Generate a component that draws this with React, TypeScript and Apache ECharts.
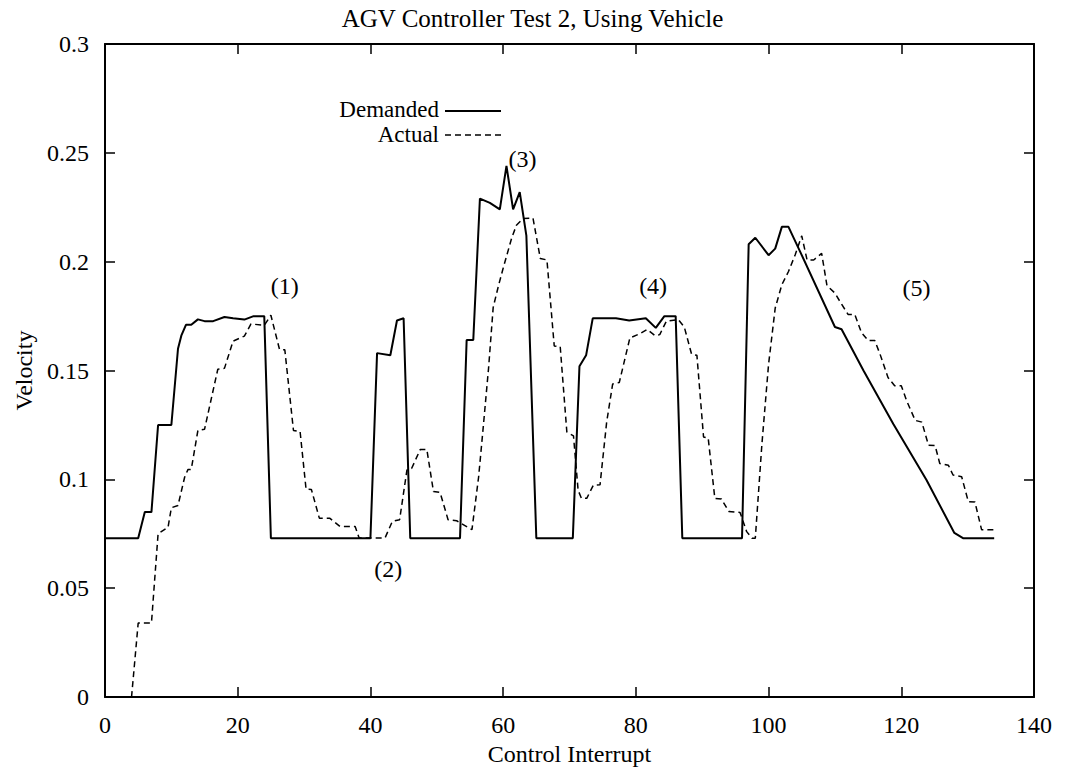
import React, { useEffect, useRef } from "react";
import * as echarts from "echarts";

const titleText = "AGV Controller Test 2, Using Vehicle";
const xAxisName = "Control Interrupt";
const yAxisName = "Velocity";
const seriesNames = ["Demanded", "Actual"];

const demanded: [number, number][] = [
  [0, 0.073], [5, 0.073], [6, 0.085], [7, 0.085], [8, 0.125], [10, 0.125], [11, 0.16], [11.5, 0.166],
  [12.2, 0.171], [13, 0.171], [14, 0.1735], [15, 0.1727], [16.3, 0.1727], [18, 0.1746], [19.3, 0.174],
  [21, 0.1734], [22.4, 0.175], [24, 0.175], [25, 0.073], [40, 0.073], [41, 0.158], [43, 0.157],
  [44, 0.173], [45, 0.174], [46, 0.073], [53.5, 0.073], [54.5, 0.164], [55.5, 0.164], [56.5, 0.229],
  [58, 0.227], [59.5, 0.224], [60.5, 0.244], [61.5, 0.224], [62.5, 0.232], [63.5, 0.212], [65, 0.073],
  [70.5, 0.073], [71.5, 0.152], [72.5, 0.157], [73.5, 0.174], [77, 0.174], [79, 0.173], [81.5, 0.174],
  [83, 0.1696], [84.3, 0.175], [86, 0.175], [87, 0.073], [96, 0.073], [97, 0.208], [98, 0.211],
  [100, 0.203], [101, 0.206], [102, 0.216], [103, 0.216], [104.7, 0.205], [110, 0.17], [111, 0.169],
  [114.3, 0.15], [118.8, 0.1255], [123.8, 0.0997], [128, 0.0754], [129.3, 0.073], [134, 0.073],
];

const actual: [number, number][] = [
  [4, 0], [5, 0.034], [7, 0.034], [8, 0.075], [9.5, 0.078], [10, 0.087], [11, 0.088], [12, 0.101],
  [12.5, 0.1045], [13, 0.1046], [14, 0.1225], [15, 0.123], [17, 0.1506], [18, 0.151], [19.3, 0.1635],
  [21, 0.1658], [22, 0.1714], [24, 0.1708], [25, 0.1754], [26.3, 0.1597], [27.1, 0.1595], [28.4, 0.1225],
  [29.4, 0.122], [30.3, 0.0955], [31.1, 0.0954], [32.3, 0.0822], [33.9, 0.0821], [35.4, 0.0784],
  [37.7, 0.0784], [38.3, 0.0731], [42.2, 0.0731], [43.3, 0.0807], [44.4, 0.0815], [45.5, 0.1043],
  [46.2, 0.105], [47.5, 0.1137], [48.5, 0.1138], [49.5, 0.0944], [50.5, 0.094], [51.7, 0.0815],
  [53, 0.081], [55.3, 0.0769], [56.3, 0.101], [57, 0.124], [57.8, 0.151], [58.5, 0.179], [59.3, 0.189],
  [60, 0.197], [61.3, 0.211], [62, 0.2167], [63, 0.2198], [64.5, 0.22], [65.6, 0.2015], [66.6, 0.2008],
  [67.7, 0.1613], [68.6, 0.161], [69.6, 0.1218], [70.6, 0.12], [71.3, 0.095], [71.8, 0.0913],
  [72.6, 0.0913], [73.6, 0.0974], [74.6, 0.0975], [75.6, 0.1263], [76.5, 0.1438], [77.5, 0.1445],
  [79.1, 0.165], [80.6, 0.1669], [81.7, 0.1689], [82.9, 0.166], [83.6, 0.1665], [84.6, 0.1727],
  [86.4, 0.1734], [87.3, 0.17], [88.4, 0.1575], [89.2, 0.157], [90.2, 0.1195], [90.9, 0.119],
  [91.9, 0.0913], [92.9, 0.091], [94, 0.0853], [95.7, 0.0848], [96.7, 0.076], [97.5, 0.073], [98, 0.073],
  [99, 0.1164], [100, 0.1529], [101, 0.1787], [102, 0.1894], [103, 0.1955], [104, 0.2031], [105, 0.2119],
  [105.8, 0.2008], [106.8, 0.2008], [108, 0.2038], [108.8, 0.189], [110, 0.1856], [110.9, 0.181],
  [112, 0.1757], [113, 0.1757], [114, 0.1674], [115, 0.1638], [116, 0.1638], [116.8, 0.1575],
  [118, 0.1468], [119, 0.143], [120, 0.143], [120.8, 0.1362], [122.1, 0.1271], [123.1, 0.1263],
  [124.1, 0.1157], [125.1, 0.1155], [125.8, 0.1073], [127.1, 0.1065], [127.8, 0.102], [129.1, 0.1012],
  [130.1, 0.0898], [131.1, 0.0896], [132.1, 0.0769], [134.1, 0.0769],
];

const annotationTexts = ["(1)", "(2)", "(3)", "(4)", "(5)"];
const annotationPositions: [number, number][] = [
  [27.1, 0.189], [42.7, 0.059], [62.9, 0.247], [82.6, 0.189], [122.3, 0.188],
];

const FONT = "'Liberation Serif', 'Times New Roman', serif";
const FS_TITLE = 25;
const FS_TICK = 24;
const FS_NAME = 24;
const FS_LEGEND = 23;
const FS_NOTE = 24;

export default function App() {
  const ref = useRef<HTMLDivElement>(null);
  useEffect(() => {
    if (!ref.current) return;
    const chart = echarts.init(ref.current, undefined, { renderer: "svg" });
    const axisCommon = {
      type: "value" as const,
      axisLine: { show: true, onZero: false, lineStyle: { color: "#000", width: 2 } },
      axisTick: { show: true, inside: true, length: 10, lineStyle: { color: "#000", width: 1.5 } },
      splitLine: { show: false },
    };
    chart.setOption({
      animation: false,
      backgroundColor: "#fff",
      title: {
        text: titleText,
        left: "center",
        top: 1,
        textStyle: { fontFamily: FONT, fontSize: FS_TITLE, fontWeight: "normal", color: "#000" },
      },
      grid: { left: 105, right: 31, top: 44, bottom: 69, containLabel: false },
      xAxis: [
        {
          ...axisCommon,
          min: 0, max: 140, interval: 20,
          name: xAxisName, nameLocation: "middle", nameGap: 38,
          nameTextStyle: { fontFamily: FONT, fontSize: FS_NAME, color: "#000" },
          axisLabel: { fontFamily: FONT, fontSize: FS_TICK, color: "#000", margin: 16 },
        },
        {
          ...axisCommon,
          position: "top",
          min: 0, max: 140, interval: 20,
          axisLabel: { show: false },
        },
      ],
      yAxis: [
        {
          ...axisCommon,
          min: 0, max: 0.3, interval: 0.05,
          name: yAxisName, nameLocation: "middle", nameGap: 65,
          nameTextStyle: { fontFamily: FONT, fontSize: FS_NAME, color: "#000" },
          axisLabel: { fontFamily: FONT, fontSize: FS_TICK, color: "#000", margin: 16 },
        },
        {
          ...axisCommon,
          position: "right",
          min: 0, max: 0.3, interval: 0.05,
          axisLabel: { show: false },
        },
      ],
      graphic: [
        { type: "text", right: 626, top: 98, style: { text: seriesNames[0], font: `${FS_LEGEND}px ${FONT}`, fill: "#000" } },
        { type: "line", shape: { x1: 445, y1: 111, x2: 501, y2: 111 }, style: { stroke: "#000", lineWidth: 2 } },
        { type: "text", right: 626, top: 123, style: { text: seriesNames[1], font: `${FS_LEGEND}px ${FONT}`, fill: "#000" } },
        { type: "line", shape: { x1: 445, y1: 135, x2: 501, y2: 135 }, style: { stroke: "#000", lineWidth: 1.5, lineDash: [6, 4] } },
      ],
      series: [
        {
          name: seriesNames[0],
          type: "line",
          data: demanded,
          showSymbol: false,
          symbol: "none",
          lineStyle: { color: "#000", width: 2 },
          xAxisIndex: 0, yAxisIndex: 0,
        },
        {
          name: seriesNames[1],
          type: "line",
          data: actual,
          showSymbol: false,
          symbol: "none",
          lineStyle: { color: "#000", width: 1.5, type: [6, 4] },
          xAxisIndex: 0, yAxisIndex: 0,
        },
        {
          type: "scatter",
          data: annotationPositions,
          symbolSize: 0,
          silent: true,
          itemStyle: { opacity: 1, color: "#000" },
          label: {
            show: true,
            position: "inside",
            formatter: (p: any) => annotationTexts[p.dataIndex],
            fontFamily: FONT,
            fontSize: FS_NOTE,
            color: "#000",
            opacity: 1,
          },
          xAxisIndex: 0, yAxisIndex: 0,
        },
      ],
    });
    return () => chart.dispose();
  }, []);
  return <div ref={ref} style={{ width: 1065, height: 771, position: "absolute", left: 0, top: 0 }} />;
}
